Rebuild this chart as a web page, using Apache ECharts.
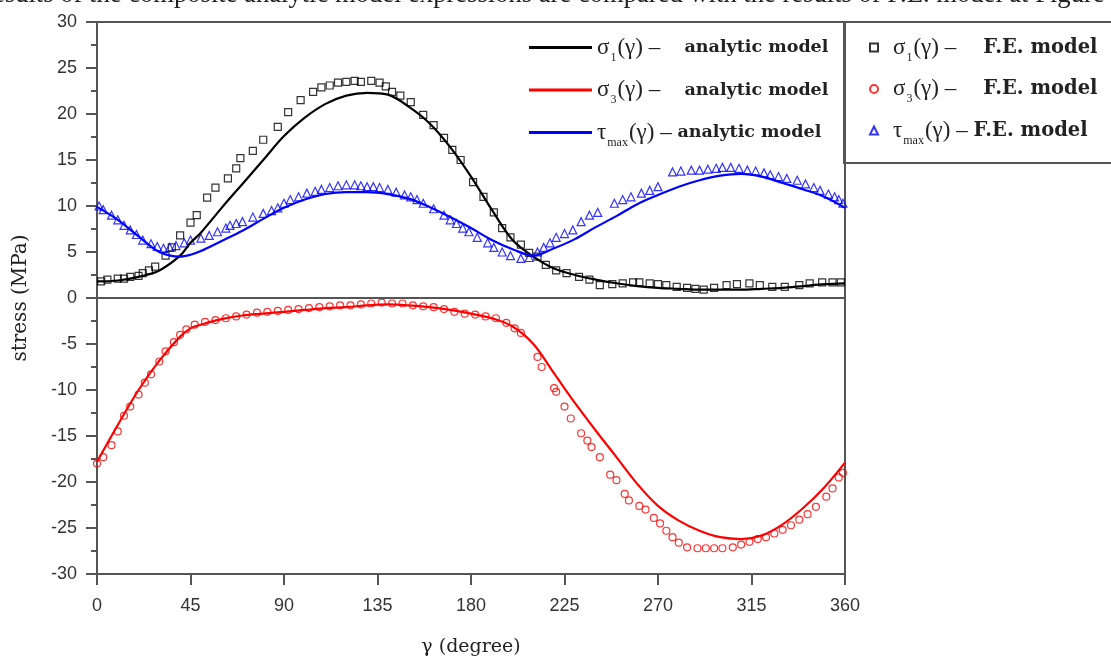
<!DOCTYPE html>
<html>
<head>
<meta charset="utf-8">
<script src="https://cdn.jsdelivr.net/npm/echarts@6/dist/echarts.min.js"></script>
<style>html,body{margin:0;padding:0;background:#fff}#c{width:1111px;height:659px}</style>
</head>
<body>
<div id="c"></div>
<script>
// ---- data ----
const lineX = [0,10,20,30,40,45,50,60,70,80,90,100,110,120,130,140,150,160,170,180,190,200,210,220,230,240,250,260,270,280,290,300,310,320,330,340,350,360];
const s1Line = [1.8,1.9,2.3,3.0,4.6,6.0,7.1,9.8,12.4,15.0,17.6,19.6,21.1,22.0,22.3,22.1,20.8,19.0,16.4,13.2,9.6,6.3,4.5,3.2,2.5,2.0,1.6,1.3,1.1,1.0,0.9,0.9,0.9,1.0,1.1,1.3,1.5,1.6];
const s3Line = [-17.8,-13.8,-10.0,-6.8,-4.2,-3.3,-2.9,-2.3,-1.9,-1.7,-1.5,-1.3,-1.1,-1.0,-0.8,-0.7,-0.8,-1.0,-1.3,-1.7,-2.2,-3.1,-5.0,-8.2,-11.4,-14.4,-17.3,-20.2,-22.6,-24.2,-25.3,-26.0,-26.2,-25.8,-24.6,-22.8,-20.6,-17.9];
const tauLine = [9.9,8.5,6.7,5.0,4.5,4.7,5.1,6.2,7.3,8.6,9.8,10.7,11.3,11.5,11.5,11.3,10.8,9.9,8.8,7.6,6.3,5.3,4.6,5.4,6.4,7.7,8.9,10.2,11.2,12.1,12.8,13.3,13.5,13.2,12.5,11.8,11.0,9.8];

const s1FeX = [2,5,10,13,16,20,22,25,28,33,36,40,45,48,53,57,63,67,69,75,80,87,92,98,104,108,112,116,120,124,127,132,136,139,142,146,151,157,162,167,171,175,181,186,191,195,199,204,208,212,216,221,226,232,237,242,248,253,258,261,266,270,274,279,284,288,292,297,303,308,314,319,325,331,338,343,349,354,358];
const s1FeY = [1.8,2.0,2.1,2.1,2.3,2.4,2.7,3.0,3.4,4.6,5.5,6.8,8.2,9.0,10.9,12.0,13.0,14.1,15.2,16.0,17.2,18.6,20.2,21.5,22.4,22.9,23.1,23.4,23.5,23.6,23.5,23.6,23.4,23.0,22.4,22.0,21.3,19.9,18.8,17.4,16.1,15.0,12.6,11.0,9.3,7.6,6.6,5.8,4.9,4.5,3.6,3.0,2.7,2.3,2.0,1.4,1.5,1.6,1.7,1.7,1.6,1.5,1.4,1.2,1.1,1.0,0.9,1.1,1.4,1.5,1.6,1.4,1.2,1.2,1.4,1.6,1.7,1.7,1.7];

const s3FeX = [0,3,7,10,13,16,20,23,26,30,33,37,40,43,47,52,57,62,67,72,77,82,87,92,97,102,107,112,117,122,127,132,137,142,147,152,157,162,167,172,177,182,187,192,197,201,204,212,214,220,221,225,228,233,236,238,242,247,250,254,256,261,264,268,271,274,277,280,284,289,293,297,301,306,310,314,318,322,326,330,334,338,342,346,351,354,357,359];
const s3FeY = [-18.0,-17.3,-16.0,-14.5,-12.8,-11.8,-10.5,-9.2,-8.3,-6.9,-5.8,-4.8,-4.0,-3.4,-2.9,-2.6,-2.4,-2.2,-2.0,-1.8,-1.6,-1.5,-1.4,-1.3,-1.2,-1.1,-1.0,-0.9,-0.8,-0.8,-0.7,-0.6,-0.5,-0.6,-0.6,-0.8,-0.9,-1.0,-1.2,-1.5,-1.7,-1.8,-2.0,-2.2,-2.7,-3.3,-3.8,-6.4,-7.5,-9.8,-10.2,-11.8,-13.1,-14.7,-15.5,-16.2,-17.3,-19.2,-19.8,-21.3,-22.0,-22.6,-23.0,-23.9,-24.5,-25.3,-26.0,-26.6,-27.1,-27.2,-27.2,-27.2,-27.2,-27.1,-26.8,-26.5,-26.2,-26.0,-25.6,-25.2,-24.7,-24.1,-23.5,-22.7,-21.6,-20.7,-19.5,-19.0];

const tauFeX = [1,3,7,10,13,16,19,22,26,29,32,35,38,42,45,50,54,58,62,64,67,70,75,80,84,87,90,93,97,101,105,108,112,116,120,124,127,130,133,136,140,144,148,151,154,157,162,167,170,173,176,179,183,188,191,195,199,204,208,212,215,218,221,225,229,233,237,241,249,253,257,262,266,270,277,281,286,290,294,298,301,305,309,313,317,321,324,328,332,337,341,345,348,352,355,357,359];
const tauFeY = [10.0,9.6,9.0,8.5,7.9,7.4,6.9,6.3,5.9,5.6,5.4,5.5,5.7,6.0,6.3,6.5,6.8,7.2,7.6,7.9,8.1,8.3,8.8,9.2,9.5,9.8,10.3,10.7,11.0,11.4,11.6,11.8,12.0,12.2,12.3,12.3,12.2,12.1,12.1,12.0,11.8,11.5,11.2,11.0,10.7,10.3,9.7,9.0,8.5,8.1,7.6,7.2,6.6,6.0,5.5,5.0,4.6,4.3,4.4,5.0,5.5,6.0,6.6,7.0,7.4,8.3,9.0,9.3,10.3,10.7,11.0,11.4,11.7,12.1,13.7,13.8,13.9,13.9,14.0,14.1,14.2,14.2,14.1,13.9,13.8,13.6,13.4,13.2,13.0,12.8,12.4,12.0,11.7,11.3,11.0,10.7,10.3];

const xTicks = [0,45,90,135,180,225,270,315,360];
const names = ['σ1 analytic','σ3 analytic','τmax analytic','σ1 FE','σ3 FE','τmax FE'];

// ---- build ----
const zip = (a,b) => a.map((v,i)=>[v,b[i]]);
const chart = echarts.init(document.getElementById('c'), null, {renderer:'canvas'});
const axisGray = '#555';
const serif = '"Liberation Serif", "DejaVu Serif", serif';
const wideSerif = '"DejaVu Serif", serif';
const sans = '"Liberation Sans", Arial, sans-serif';

const rich = {
  g:{fontFamily:serif, fontSize:23, color:'#222', verticalAlign:'middle', lineHeight:32},
  sub:{fontFamily:serif, fontSize:12, color:'#222', verticalAlign:'bottom', lineHeight:32, padding:[0,1,0,1]},
  t:{fontFamily:wideSerif, fontSize:17.5, color:'#222', fontWeight:'bold', verticalAlign:'middle', lineHeight:32},
  t2:{fontFamily:wideSerif, fontSize:19.5, color:'#222', fontWeight:'bold', verticalAlign:'middle', lineHeight:32}
};
const labelMap = {
  'σ1 analytic':'{g|σ}{sub|1}{g|(γ) –}{t|    analytic model}',
  'σ3 analytic':'{g|σ}{sub|3}{g|(γ) –}{t|    analytic model}',
  'τmax analytic':'{g|τ}{sub|max}{g|(γ) – }{t|analytic model}',
  'σ1 FE':'{g|σ}{sub|1}{g|(γ) –}{t2|    F.E. model}',
  'σ3 FE':'{g|σ}{sub|3}{g|(γ) –}{t2|    F.E. model}',
  'τmax FE':'{g|τ}{sub|max}{g|(γ) – }{t2|F.E. model}'
};

const lineSeries = (name, ys, color, extra) => Object.assign({
  name, type:'line', data: zip(lineX, ys), smooth:0.35, showSymbol:false, symbol:'none',
  lineStyle:{color, width:2.2}, itemStyle:{color}, z:3
}, extra||{});
const scatterSeries = (name, xs, ys, color, symbol, size) => ({
  name, type:'scatter', data: zip(xs, ys), symbol, symbolSize:size,
  itemStyle:{color:'rgba(255,255,255,0)', borderColor:color, borderWidth:1.2}, z:2
});

chart.setOption({
  animation:false,
  backgroundColor:'#fff',
  grid:{left:97, right:266, top:22, bottom:85, containLabel:false, outerBoundsMode:'none'},
  xAxis:[{
    type:'value', min:0, max:360, interval:45, position:'bottom',
    axisLine:{show:true, onZero:false, lineStyle:{color:axisGray, width:2}},
    axisTick:{show:true, inside:false, length:11, lineStyle:{color:axisGray, width:2}},
    splitLine:{show:false},
    axisLabel:{color:'#333', fontFamily:sans, fontSize:18, margin:23},
    name:'γ (degree)', nameLocation:'middle', nameGap:64,
    nameTextStyle:{fontFamily:wideSerif, fontSize:19, color:'#222'}
  },{
    type:'value', min:0, max:360, position:'top',
    axisLine:{show:true, onZero:false, lineStyle:{color:axisGray, width:2}},
    axisTick:{show:false}, axisLabel:{show:false}, splitLine:{show:false}
  }],
  yAxis:[{
    type:'value', min:-30, max:30, interval:5, position:'left',
    axisLine:{show:true, onZero:false, lineStyle:{color:axisGray, width:2}},
    axisTick:{show:true, inside:false, length:11, lineStyle:{color:axisGray, width:2}},
    minorTick:{show:true, splitNumber:2, length:6, lineStyle:{color:axisGray, width:2}},
    splitLine:{show:false},
    axisLabel:{color:'#333', fontFamily:sans, fontSize:18, margin:20},
    name:'stress (MPa)', nameLocation:'middle', nameGap:66, nameRotate:90,
    nameTextStyle:{fontFamily:wideSerif, fontSize:20, color:'#222'}
  },{
    type:'value', min:-30, max:30, position:'right',
    axisLine:{show:true, onZero:false, lineStyle:{color:axisGray, width:2}},
    axisTick:{show:false}, axisLabel:{show:false}, splitLine:{show:false}
  }],
  legend:[{
    data:names.slice(0,3), orient:'vertical', left:524, top:31,
    icon:'rect', itemWidth:63, itemHeight:3, itemGap:15,
    formatter: n => labelMap[n], textStyle:{rich}
  },{
    data:names.slice(3), orient:'vertical', left:864, top:31,
    itemWidth:8, itemHeight:8, itemGap:14,
    formatter: n => '   ' + labelMap[n], textStyle:{rich}
  }],
  graphic:[
    {type:'rect', shape:{x:844, y:22, width:280, height:141}, style:{fill:'none', stroke:axisGray, lineWidth:2}, z:10},
    {type:'text', left:-7, top:-18, style:{text:'esults of the composite analytic model expressions are compared with the results of F.E. model at Figure', font:'26.6px "Liberation Serif", serif', fill:'#222'}}
  ],
  series:[
    lineSeries(names[0], s1Line, '#000000', {
      markLine:{silent:true, symbol:'none', label:{show:false}, lineStyle:{color:axisGray, width:2, type:'solid'}, data:[{yAxis:0}]}
    }),
    lineSeries(names[1], s3Line, '#ff0000'),
    lineSeries(names[2], tauLine, '#0000ff'),
    scatterSeries(names[3], s1FeX, s1FeY, '#000000', 'rect', 7),
    scatterSeries(names[4], s3FeX, s3FeY, '#ff0000', 'circle', 7),
    scatterSeries(names[5], tauFeX, tauFeY, '#0000ff', 'triangle', 8)
  ]
});
</script>
</body>
</html>
